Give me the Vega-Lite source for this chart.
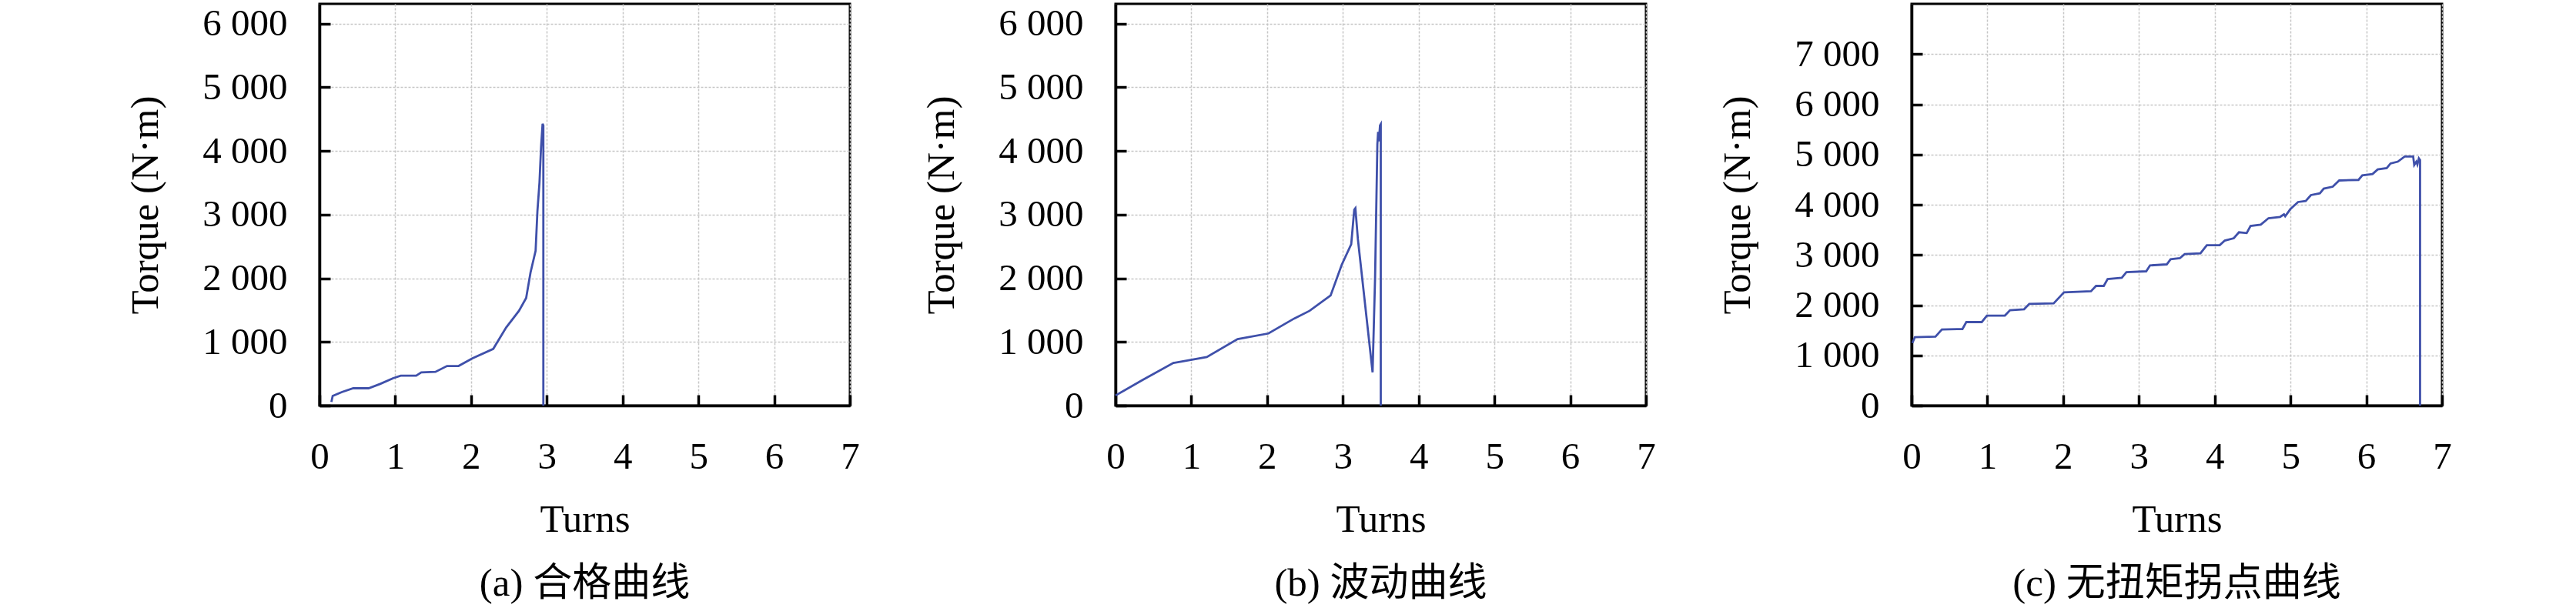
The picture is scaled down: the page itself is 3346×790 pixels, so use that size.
{
  "$schema": "https://vega.github.io/schema/vega-lite/v6.json",
  "background": "white",
  "padding": {"left": 162, "top": 3, "right": 5, "bottom": 5},
  "datasets": {
    "a": [
      {"t": 0.157, "torque": 58}, {"t": 0.174, "torque": 151}, {"t": 0.30, "torque": 215},
      {"t": 0.445, "torque": 272}, {"t": 0.648, "torque": 272}, {"t": 0.80, "torque": 340},
      {"t": 0.97, "torque": 429}, {"t": 1.072, "torque": 469}, {"t": 1.276, "torque": 469},
      {"t": 1.343, "torque": 522}, {"t": 1.53, "torque": 530}, {"t": 1.683, "torque": 622},
      {"t": 1.835, "torque": 622}, {"t": 2.02, "torque": 743}, {"t": 2.293, "torque": 891},
      {"t": 2.463, "torque": 1226}, {"t": 2.632, "torque": 1488}, {"t": 2.727, "torque": 1689},
      {"t": 2.785, "torque": 2092}, {"t": 2.852, "torque": 2433}, {"t": 2.876, "torque": 3058},
      {"t": 2.903, "torque": 3500}, {"t": 2.924, "torque": 4064}, {"t": 2.944, "torque": 4426},
      {"t": 2.954, "torque": 4400}, {"t": 2.954, "torque": 0}
    ],
    "b": [
      {"t": 0, "torque": 159}, {"t": 0.356, "torque": 401}, {"t": 0.763, "torque": 670},
      {"t": 0.865, "torque": 690}, {"t": 1.204, "torque": 763}, {"t": 1.611, "torque": 1045},
      {"t": 2.018, "torque": 1133}, {"t": 2.357, "torque": 1367}, {"t": 2.56, "torque": 1488},
      {"t": 2.838, "torque": 1729}, {"t": 2.985, "torque": 2212}, {"t": 3.11, "torque": 2534},
      {"t": 3.15, "torque": 3077}, {"t": 3.165, "torque": 3100}, {"t": 3.198, "torque": 2615},
      {"t": 3.392, "torque": 522}, {"t": 3.425, "torque": 2011}, {"t": 3.455, "torque": 4104},
      {"t": 3.465, "torque": 4300}, {"t": 3.475, "torque": 4150}, {"t": 3.49, "torque": 4400},
      {"t": 3.50, "torque": 4420}, {"t": 3.50, "torque": 0}
    ],
    "c": [
      {"t": 0.01, "torque": 1245}, {"t": 0.044, "torque": 1363}, {"t": 0.315, "torque": 1372},
      {"t": 0.40, "torque": 1516}, {"t": 0.671, "torque": 1525}, {"t": 0.722, "torque": 1663},
      {"t": 0.926, "torque": 1663}, {"t": 0.994, "torque": 1792}, {"t": 1.231, "torque": 1792},
      {"t": 1.299, "torque": 1899}, {"t": 1.485, "torque": 1919}, {"t": 1.553, "torque": 2026},
      {"t": 1.875, "torque": 2037}, {"t": 2.011, "torque": 2256}, {"t": 2.367, "torque": 2276},
      {"t": 2.434, "torque": 2383}, {"t": 2.536, "torque": 2383}, {"t": 2.587, "torque": 2521},
      {"t": 2.774, "torque": 2547}, {"t": 2.835, "torque": 2658}, {"t": 3.096, "torque": 2674},
      {"t": 3.147, "torque": 2792}, {"t": 3.367, "torque": 2812}, {"t": 3.418, "torque": 2914},
      {"t": 3.54, "torque": 2935}, {"t": 3.604, "torque": 3017}, {"t": 3.812, "torque": 3032},
      {"t": 3.896, "torque": 3195}, {"t": 4.066, "torque": 3195}, {"t": 4.133, "torque": 3287},
      {"t": 4.252, "torque": 3333}, {"t": 4.32, "torque": 3451}, {"t": 4.422, "torque": 3436},
      {"t": 4.473, "torque": 3578}, {"t": 4.608, "torque": 3604}, {"t": 4.71, "torque": 3732},
      {"t": 4.863, "torque": 3758}, {"t": 4.914, "torque": 3808}, {"t": 4.93, "torque": 3770},
      {"t": 4.998, "torque": 3911}, {"t": 5.1, "torque": 4054}, {"t": 5.201, "torque": 4075},
      {"t": 5.27, "torque": 4192}, {"t": 5.388, "torque": 4228}, {"t": 5.439, "torque": 4320},
      {"t": 5.558, "torque": 4360}, {"t": 5.643, "torque": 4483}, {"t": 5.897, "torque": 4494},
      {"t": 5.948, "torque": 4586}, {"t": 6.083, "torque": 4611}, {"t": 6.151, "torque": 4703},
      {"t": 6.27, "torque": 4729}, {"t": 6.32, "torque": 4821}, {"t": 6.416, "torque": 4857},
      {"t": 6.507, "torque": 4959}, {"t": 6.619, "torque": 4959}, {"t": 6.633, "torque": 4790},
      {"t": 6.66, "torque": 4857}, {"t": 6.675, "torque": 4800}, {"t": 6.694, "torque": 4923},
      {"t": 6.71, "torque": 4890}, {"t": 6.71, "torque": 0}
    ]
  },
  "config": {
    "font": "Liberation Serif",
    "view": {"stroke": "black", "strokeWidth": 3},
    "concat": {"spacing": 78},
    "line": {"color": "#3f50aa", "strokeWidth": 2.8},
    "axis": {
      "domainColor": "black",
      "domainWidth": 3.5,
      "tickColor": "black",
      "tickWidth": 3.5,
      "tickSize": -14,
      "grid": true,
      "gridColor": "#c6c6c6",
      "gridDash": [3, 2],
      "gridWidth": 1.5,
      "labelFont": "Liberation Serif",
      "labelFontSize": 49,
      "labelColor": "black",
      "labelPadding": 56,
      "labelFlush": false,
      "titleFont": "Liberation Serif",
      "titleFontSize": 51,
      "titleFontWeight": "normal",
      "titleColor": "black"
    },
    "axisX": {"titlePadding": 32},
    "axisY": {"titlePadding": 47, "labelExpr": "replace(format(datum.value, ','), ',', ' ')"},
    "title": {
      "orient": "bottom",
      "frame": "group",
      "font": "'Liberation Serif', 'Noto Sans CJK SC'",
      "fontSize": 51,
      "fontWeight": "normal",
      "color": "black",
      "offset": 34
    }
  },
  "hconcat": [
    {
      "width": 689,
      "height": 522,
      "data": {"name": "a"},
      "title": "(a) 合格曲线",
      "mark": {"type": "line"},
      "encoding": {
        "x": {"field": "t", "type": "quantitative", "title": "Turns",
              "scale": {"domain": [0, 7], "nice": false},
              "axis": {"values": [0, 1, 2, 3, 4, 5, 6, 7]}},
        "y": {"field": "torque", "type": "quantitative", "title": "Torque (N·m)",
              "scale": {"domain": [0, 6310], "nice": false},
              "axis": {"values": [0, 1000, 2000, 3000, 4000, 5000, 6000]}},
        "order": {"value": null}
      }
    },
    {
      "width": 689,
      "height": 522,
      "data": {"name": "b"},
      "title": "(b) 波动曲线",
      "mark": {"type": "line"},
      "encoding": {
        "x": {"field": "t", "type": "quantitative", "title": "Turns",
              "scale": {"domain": [0, 7], "nice": false},
              "axis": {"values": [0, 1, 2, 3, 4, 5, 6, 7]}},
        "y": {"field": "torque", "type": "quantitative", "title": "Torque (N·m)",
              "scale": {"domain": [0, 6310], "nice": false},
              "axis": {"values": [0, 1000, 2000, 3000, 4000, 5000, 6000]}},
        "order": {"value": null}
      }
    },
    {
      "width": 689,
      "height": 522,
      "data": {"name": "c"},
      "title": "(c) 无扭矩拐点曲线",
      "mark": {"type": "line"},
      "encoding": {
        "x": {"field": "t", "type": "quantitative", "title": "Turns",
              "scale": {"domain": [0, 7], "nice": false},
              "axis": {"values": [0, 1, 2, 3, 4, 5, 6, 7]}},
        "y": {"field": "torque", "type": "quantitative", "title": "Torque (N·m)",
              "scale": {"domain": [0, 8000], "nice": false},
              "axis": {"values": [0, 1000, 2000, 3000, 4000, 5000, 6000, 7000]}},
        "order": {"value": null}
      }
    }
  ]
}
